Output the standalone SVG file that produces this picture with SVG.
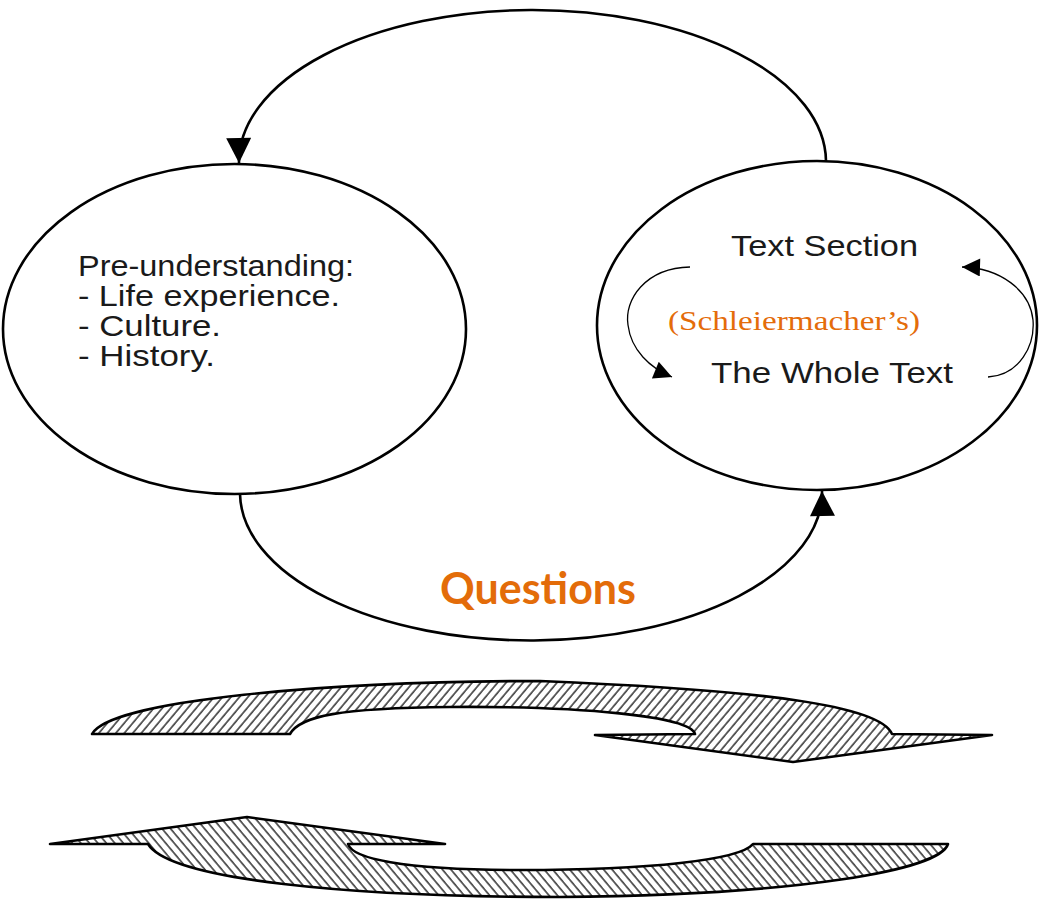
<svg xmlns="http://www.w3.org/2000/svg" width="1040" height="899" viewBox="0 0 1040 899">
  <style>
    .node { fill: #ffffff; stroke: #000000; stroke-width: 2.6; }
    .conn { fill: none; stroke: #000000; stroke-width: 2.6; }
    .thin { fill: none; stroke: #000000; stroke-width: 1.3; }
    .lbl { font-family: "Liberation Sans", Arial, sans-serif; font-size: 29px; fill: #1a1a1a; }
    .orange-serif { font-family: "Liberation Serif", "Times New Roman", serif; font-size: 27px; fill: #E46C0A; }
    .orange-bold { font-family: Lato, "Open Sans", sans-serif; font-weight: bold; font-size: 44px; fill: #E36C09; }
    .hatch { stroke: #000000; stroke-width: 2.6; stroke-linejoin: round; }
  </style>
  <defs>
    <marker id="bigArrow" viewBox="0 0 10 10" refX="10" refY="5" markerUnits="userSpaceOnUse" markerWidth="31" markerHeight="25" orient="auto">
      <path d="M0,0 L10,5 L0,10 Z" fill="#000"/>
    </marker>
    <marker id="smallArrow" viewBox="0 0 10 10" refX="10" refY="5" markerUnits="userSpaceOnUse" markerWidth="26" markerHeight="18" orient="auto">
      <path d="M0,0 L10,5 L0,10 Z" fill="#000"/>
    </marker>
    <pattern id="hatchFwd" patternUnits="userSpaceOnUse" width="6.5" height="6.5" patternTransform="rotate(40)">
      <rect width="6.5" height="6.5" fill="#fff"/>
      <line x1="1" y1="0" x2="1" y2="6.5" stroke="#222" stroke-width="1.4"/>
    </pattern>
    <pattern id="hatchBack" patternUnits="userSpaceOnUse" width="6.5" height="6.5" patternTransform="rotate(-40)">
      <rect width="6.5" height="6.5" fill="#fff"/>
      <line x1="1" y1="0" x2="1" y2="6.5" stroke="#222" stroke-width="1.4"/>
    </pattern>
  </defs>
  <rect width="1040" height="899" fill="#ffffff"/>

  <g id="connectors">
    <path class="conn" d="M826,161 A293.5,152 0 0 0 239,163" marker-end="url(#bigArrow)"/>
    <path class="conn" d="M240,494 A291,148 0 0 0 822,491" marker-end="url(#bigArrow)"/>
  </g>

  <g id="node-preunderstanding">
    <ellipse class="node" cx="234.5" cy="329" rx="231.5" ry="165"/>
    <text class="lbl" x="78" y="276" textLength="276" lengthAdjust="spacingAndGlyphs">Pre-understanding:</text>
    <text class="lbl" x="78" y="306" textLength="262" lengthAdjust="spacingAndGlyphs">- Life experience.</text>
    <text class="lbl" x="78" y="336" textLength="143" lengthAdjust="spacingAndGlyphs">- Culture.</text>
    <text class="lbl" x="78" y="366" textLength="137" lengthAdjust="spacingAndGlyphs">- History.</text>
  </g>

  <g id="node-text">
    <ellipse class="node" cx="817" cy="325.5" rx="220" ry="164.5"/>
    <text class="lbl" x="731" y="256" textLength="187" lengthAdjust="spacingAndGlyphs">Text Section</text>
    <text class="lbl" x="711" y="383" textLength="242" lengthAdjust="spacingAndGlyphs">The Whole Text</text>
    <text class="orange-serif" x="668" y="330" textLength="252" lengthAdjust="spacingAndGlyphs">(Schleiermacher’s)</text>
    <path class="thin" d="M690,267 C645,268 624,300 628,325 C631,350 650,368 672,377" marker-end="url(#smallArrow)"/>
    <path class="thin" d="M988,377 C1020,375 1035,345 1033,320 C1030,290 1000,268 962,267" marker-end="url(#smallArrow)"/>
  </g>

  <g id="label-questions">
    <text class="orange-bold" x="440" y="604" textLength="196" lengthAdjust="spacingAndGlyphs">Questions</text>
  </g>

  <g id="hatched-arrow-right">
    <path class="hatch" fill="url(#hatchFwd)" d="M92,734 L290,734 C300,716 340,708 450,707 C580,706 690,716 695,734 L595,735 L793,762 L992,735 L892,734 C880,705 760,690 540,681 C330,681 110,700 92,734 Z"/>
  </g>

  <g id="hatched-arrow-left">
    <path class="hatch" fill="url(#hatchBack)" d="M50,844 L247,817 L445,844 L348,844 C352,858 400,870 520,870 C650,870 740,860 753,844 L948,844 C940,870 800,895 560,897 C350,897 170,880 148,844 Z"/>
  </g>
</svg>
